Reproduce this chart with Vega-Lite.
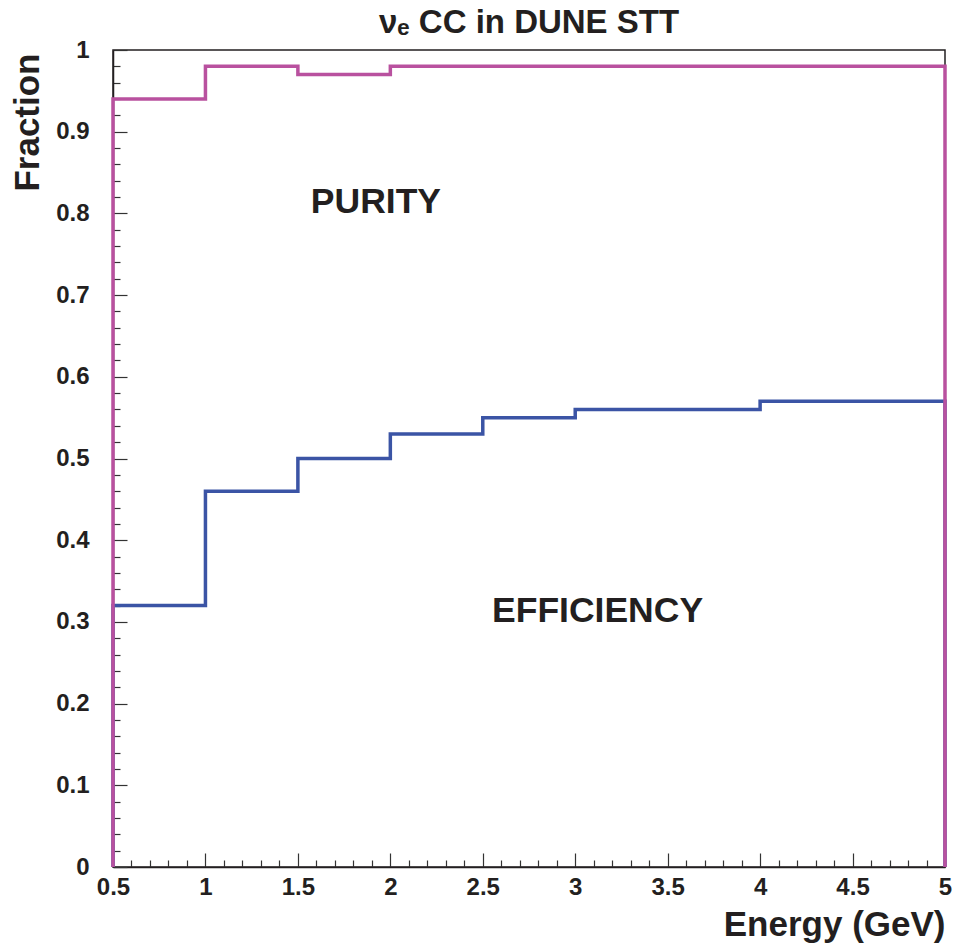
{
  "$schema": "https://vega.github.io/schema/vega-lite/v6.json",
  "width": 832,
  "height": 817,
  "autosize": {"type": "none"},
  "padding": {"left": 113, "top": 50, "right": 9, "bottom": 76},
  "background": "white",
  "title": {
    "text": "νₑ CC in DUNE STT",
    "font": "Liberation Sans",
    "fontSize": 33,
    "fontWeight": "bold",
    "color": "#231f20",
    "anchor": "middle",
    "offset": -2
  },
  "config": {
    "view": {"stroke": "#231f20", "strokeWidth": 1.5},
    "axis": {
      "grid": false,
      "tickCount": 200,
      "domainColor": "#231f20",
      "domainWidth": 1.5,
      "tickColor": "#333333",
      "tickWidth": 1.2,
      "labelFont": "Liberation Sans",
      "labelFontWeight": "bold",
      "labelFontSize": 24,
      "labelColor": "#231f20",
      "labelOverlap": false,
      "labelFlush": false,
      "labelBound": false,
      "titleFont": "Liberation Sans",
      "titleFontWeight": "bold",
      "titleColor": "#231f20"
    }
  },
  "layer": [
    {
      "data": {
        "values": [
          {"series": "Efficiency", "E": 0.5, "f": 0},
          {"series": "Efficiency", "E": 0.5, "f": 0.32},
          {"series": "Efficiency", "E": 1.0, "f": 0.46},
          {"series": "Efficiency", "E": 1.5, "f": 0.50},
          {"series": "Efficiency", "E": 2.0, "f": 0.53},
          {"series": "Efficiency", "E": 2.5, "f": 0.55},
          {"series": "Efficiency", "E": 3.0, "f": 0.56},
          {"series": "Efficiency", "E": 3.5, "f": 0.56},
          {"series": "Efficiency", "E": 4.0, "f": 0.57},
          {"series": "Efficiency", "E": 4.5, "f": 0.57},
          {"series": "Efficiency", "E": 5.0, "f": 0},
          {"series": "Purity", "E": 0.5, "f": 0},
          {"series": "Purity", "E": 0.5, "f": 0.94},
          {"series": "Purity", "E": 1.0, "f": 0.98},
          {"series": "Purity", "E": 1.5, "f": 0.97},
          {"series": "Purity", "E": 2.0, "f": 0.98},
          {"series": "Purity", "E": 2.5, "f": 0.98},
          {"series": "Purity", "E": 3.0, "f": 0.98},
          {"series": "Purity", "E": 3.5, "f": 0.98},
          {"series": "Purity", "E": 4.0, "f": 0.98},
          {"series": "Purity", "E": 4.5, "f": 0.98},
          {"series": "Purity", "E": 5.0, "f": 0}
        ]
      },
      "mark": {"type": "line", "interpolate": "step-after", "strokeWidth": 3.5, "strokeJoin": "miter", "strokeCap": "butt"},
      "encoding": {
        "x": {
          "field": "E",
          "type": "quantitative",
          "scale": {"domain": [0.5, 5], "nice": false, "zero": false},
          "axis": {
            "values": [0.5, 0.6, 0.7, 0.8, 0.9, 1.0, 1.1, 1.2, 1.3, 1.4, 1.5, 1.6, 1.7, 1.8, 1.9, 2.0, 2.1, 2.2, 2.3, 2.4, 2.5, 2.6, 2.7, 2.8, 2.9, 3.0, 3.1, 3.2, 3.3, 3.4, 3.5, 3.6, 3.7, 3.8, 3.9, 4.0, 4.1, 4.2, 4.3, 4.4, 4.5, 4.6, 4.7, 4.8, 4.9, 5.0],
            "tickCount": 200,
            "format": "~g",
            "labelExpr": "abs(datum.value*2 - round(datum.value*2)) < 0.001 ? datum.label : ''",
            "tickSize": {"condition": {"test": "abs(datum.value*2 - round(datum.value*2)) < 0.001", "value": -14}, "value": -7},
            "labelPadding": 22,
            "labelBaseline": "top",
            "labelFontSize": 24,
            "title": "Energy (GeV)",
            "titleFontSize": 35,
            "titleAnchor": "end",
            "titleAlign": "right",
            "titleBaseline": "alphabetic",
            "titleX": 832,
            "titleY": 68
          }
        },
        "y": {
          "field": "f",
          "type": "quantitative",
          "scale": {"domain": [0, 1], "nice": false},
          "axis": {
            "values": [0, 0.02, 0.04, 0.06, 0.08, 0.1, 0.12, 0.14, 0.16, 0.18, 0.2, 0.22, 0.24, 0.26, 0.28, 0.3, 0.32, 0.34, 0.36, 0.38, 0.4, 0.42, 0.44, 0.46, 0.48, 0.5, 0.52, 0.54, 0.56, 0.58, 0.6, 0.62, 0.64, 0.66, 0.68, 0.7, 0.72, 0.74, 0.76, 0.78, 0.8, 0.82, 0.84, 0.86, 0.88, 0.9, 0.92, 0.94, 0.96, 0.98, 1.0],
            "tickCount": 200,
            "format": "~g",
            "labelExpr": "abs(datum.value*10 - round(datum.value*10)) < 0.001 ? datum.label : ''",
            "tickSize": {"condition": {"test": "abs(datum.value*10 - round(datum.value*10)) < 0.001", "value": -14}, "value": -7},
            "labelPadding": 38,
            "labelBaseline": "middle",
            "labelFontSize": 24,
            "title": "Fraction",
            "titleFontSize": 35,
            "titleAngle": 270,
            "titleAnchor": "end",
            "titleAlign": "right",
            "titleBaseline": "alphabetic",
            "titleX": -75,
            "titleY": 3
          }
        },
        "color": {
          "field": "series",
          "type": "nominal",
          "scale": {"domain": ["Efficiency", "Purity"], "range": ["#3b54a5", "#b9519f"]},
          "legend": null
        }
      }
    },
    {
      "data": {
        "values": [
          {"label": "PURITY", "E": 1.57, "f": 0.80},
          {"label": "EFFICIENCY", "E": 2.55, "f": 0.30}
        ]
      },
      "mark": {"type": "text", "align": "left", "baseline": "alphabetic", "font": "Liberation Sans", "fontWeight": "bold", "fontSize": 35.5, "color": "#231f20"},
      "encoding": {
        "x": {"field": "E", "type": "quantitative"},
        "y": {"field": "f", "type": "quantitative"},
        "text": {"field": "label"}
      }
    }
  ]
}
